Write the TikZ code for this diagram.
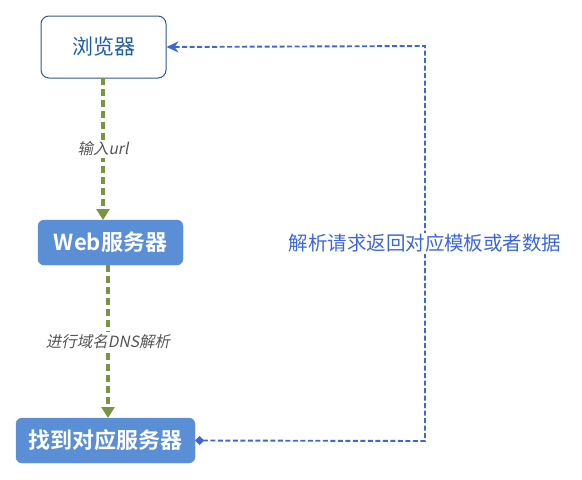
\documentclass[tikz,border=0pt]{standalone}
\usepackage{fontspec}
\setmainfont{Noto Sans CJK SC}[BoldFont={Noto Sans CJK SC Bold}, ItalicFont={Noto Sans CJK SC}, ItalicFeatures={FakeSlant=0.2}]
\usetikzlibrary{arrows.meta}
\definecolor{boxblue}{HTML}{5A8FD6}
\definecolor{darkblue}{HTML}{2B5A96}
\definecolor{txtblue}{HTML}{1E5FA8}
\definecolor{olive}{HTML}{7A9441}
\definecolor{linkblue}{HTML}{3D66DB}
\definecolor{lblgray}{HTML}{555555}
\begin{document}
\begin{tikzpicture}[x=1pt,y=-1pt,
  filled/.style={fill=boxblue, draw=boxblue, rounded corners=6pt, text=white, font=\fontsize{22}{25}\selectfont\bfseries, inner sep=0pt},
  plain/.style={fill=white, draw=darkblue, line width=1pt, rounded corners=8pt, text=txtblue, font=\fontsize{21}{24}\selectfont, inner sep=0pt},
  greenflow/.style={draw=olive, line width=3.2pt, dash pattern=on 7pt off 4pt, -{Triangle[length=11pt,width=13pt]}},
  bluelink/.style={draw=linkblue, line width=1.9pt, dash pattern=on 5pt off 2.5pt, {Diamond[length=9pt,width=9pt]}-{Stealth[length=12pt,width=11pt]}},
  lbl/.style={fill=white, text=lblgray, font=\fontsize{15.5}{18}\selectfont\itshape, inner sep=2pt}
]
\useasboundingbox (0,0) rectangle (582,480);
\node[plain, minimum width=125pt, minimum height=62pt] (browser) at (103.5,47) {浏览器};
\node[filled, minimum width=145pt, minimum height=45pt] (web) at (110.5,242.5) {Web服务器};
\node[filled, minimum width=179pt, minimum height=45pt] (find) at (105.5,440.5) {找到对应服务器};
\coordinate (b1) at (103,78);
\coordinate (w1) at (103,220);
\coordinate (w2) at (108,265);
\coordinate (f1) at (108,418);
\draw[greenflow] (b1) -- node[lbl] {输入url} (w1);
\draw[greenflow] (w2) -- node[lbl, pos=0.5] {进行域名DNS解析} (f1);
\coordinate (r1) at (425,441);
\coordinate (r2) at (425,46);
\draw[bluelink] (find.east) -- (r1) -- node[fill=white, text=linkblue, font=\fontsize{19.5}{22}\selectfont, inner sep=1pt, pos=0.5] {解析请求返回对应模板或者数据} (r2) -- (browser.east);
\end{tikzpicture}
\end{document}
